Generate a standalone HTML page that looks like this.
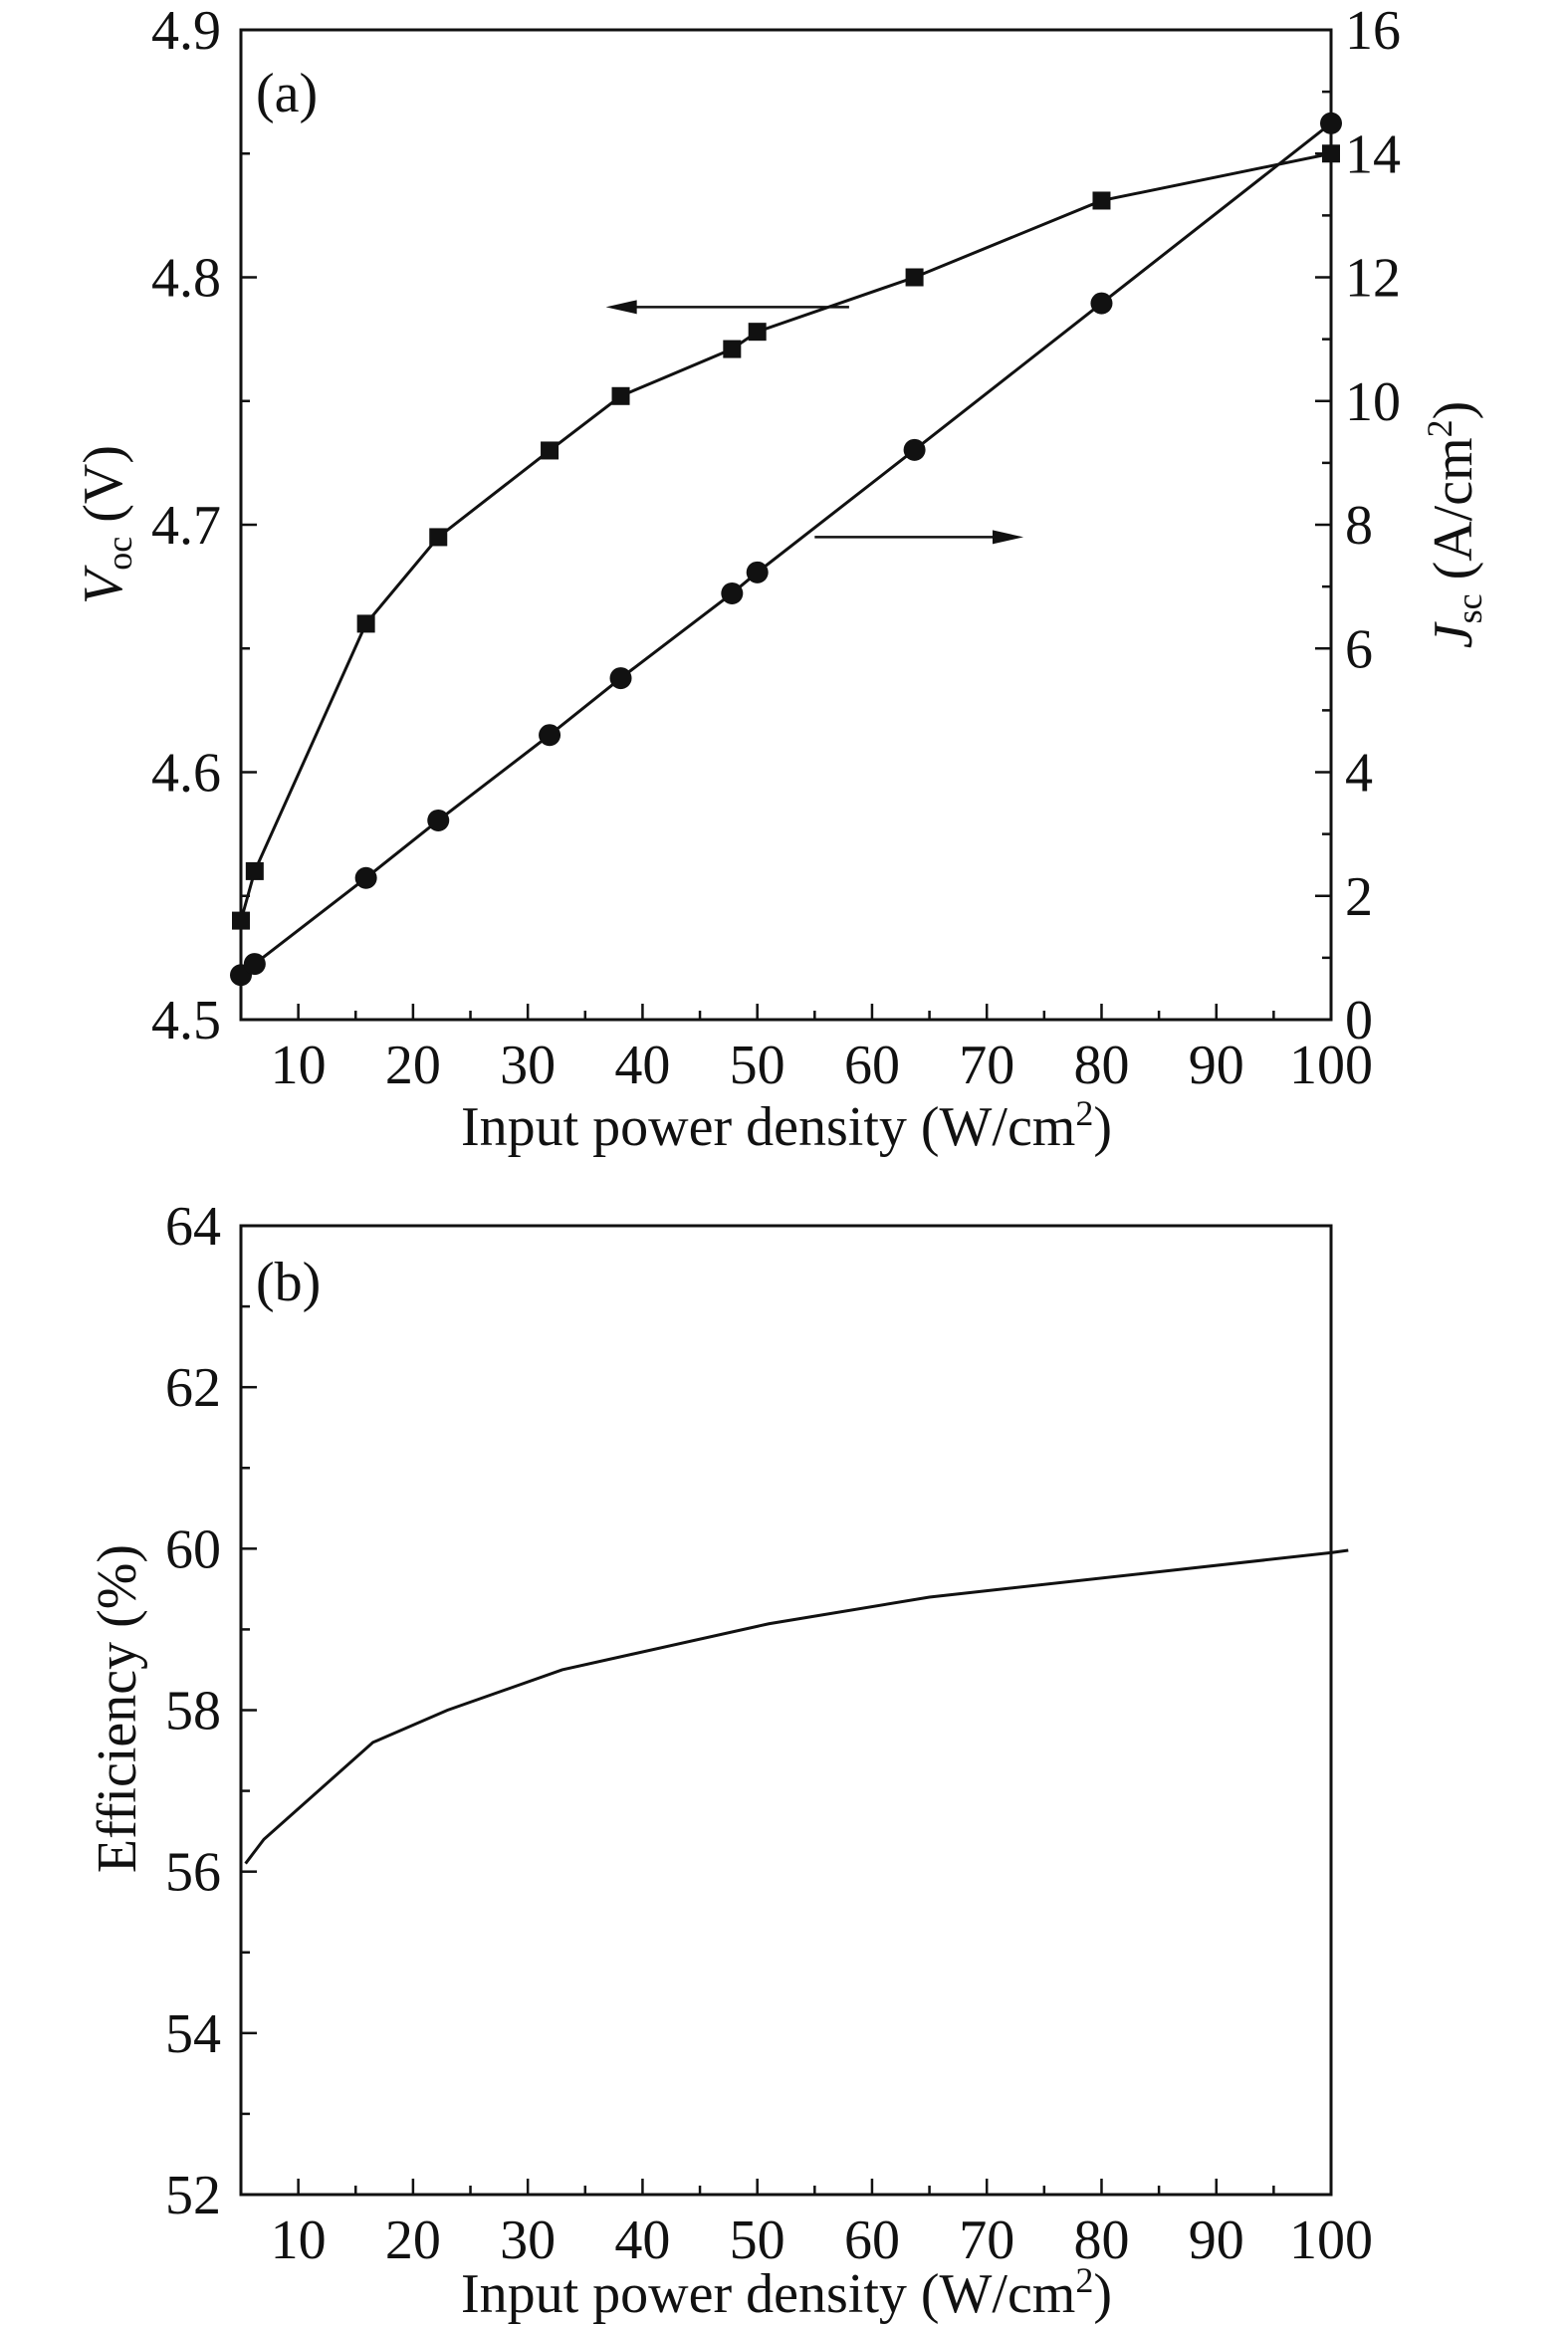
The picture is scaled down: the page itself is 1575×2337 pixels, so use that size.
<!DOCTYPE html>
<html><head><meta charset="utf-8"><style>
html,body{margin:0;padding:0;background:#fff;}
svg{display:block;font-family:"Liberation Serif",serif;}
</style></head><body>
<svg id="chart" width="1575" height="2337" viewBox="0 0 1575 2337" xmlns="http://www.w3.org/2000/svg"></svg>
<script>
const powerA = [5, 6.2, 15.9, 22.2, 31.9, 38.1, 47.8, 50, 63.7, 80, 100];
const vocValues = [4.54, 4.56, 4.66, 4.695, 4.73, 4.752, 4.771, 4.778, 4.80, 4.831, 4.85];
const jscValues = [0.72, 0.9, 2.29, 3.22, 4.6, 5.52, 6.89, 7.23, 9.21, 11.58, 14.49];
const powerB = [5.4, 7, 16.5, 23, 33, 51, 65, 100, 101.5];
const effValues = [56.1, 56.4, 57.6, 58.0, 58.5, 59.07, 59.4, 59.95, 59.98];
const xTicks = [10, 20, 30, 40, 50, 60, 70, 80, 90, 100];
const vocTicks = ["4.5", "4.6", "4.7", "4.8", "4.9"];
const jscTicks = [0, 2, 4, 6, 8, 10, 12, 14, 16];
const effTicks = [52, 54, 56, 58, 60, 62, 64];

const NS = "http://www.w3.org/2000/svg";
const svg = document.getElementById('chart');
function mk(tag, attrs, parent, text) {
  const e = document.createElementNS(NS, tag);
  for (const k in attrs) e.setAttribute(k, attrs[k]);
  if (text !== undefined) e.textContent = text;
  (parent || svg).appendChild(e);
  return e;
}
const FS = 56;
const L = 242, R = 1337, XMIN = 5, XMAX = 100;
const xs = v => L + (v - XMIN) / (XMAX - XMIN) * (R - L);

function panel(top, bottom, name) {
  const g = mk('g', {});
  
  
  const f = mk('rect', {x: L, y: top, width: R - L, height: bottom - top, fill: 'none', stroke: '#111', 'stroke-width': 3}, g);
  
  
  for (let v = 10; v <= 100; v += 5) {
    const len = v % 10 === 0 ? 16 : 9;
    mk('line', {x1: xs(v), x2: xs(v), y1: bottom, y2: bottom - len, stroke: '#111', 'stroke-width': 2.5}, g);
  }
  xTicks.forEach(v => {
    const t = mk('text', {x: xs(v), y: bottom + 64, 'font-size': FS, 'text-anchor': 'middle', fill: '#111'}, g, String(v));
    
    
  });
  return g;
}

// Panel A
const aT = 30, aB = 1024;
const gA = panel(aT, aB, 'panel-a');
const yV = v => aB - (v - 4.5) / 0.4 * (aB - aT);
const yJ = v => aB - v / 16 * (aB - aT);
for (let i = 0; i <= 8; i++) {
  const v = 4.5 + i * 0.05, len = i % 2 === 0 ? 16 : 9;
  mk('line', {x1: L, x2: L + len, y1: yV(v), y2: yV(v), stroke: '#111', 'stroke-width': 2.5}, gA);
}
vocTicks.forEach(s => {
  const t = mk('text', {x: 222, y: yV(+s) + 19, 'font-size': FS, 'text-anchor': 'end', fill: '#111'}, gA, s);
  
  
});
for (let v = 0; v <= 16; v++) {
  const len = v % 2 === 0 ? 16 : 9;
  mk('line', {x1: R, x2: R - len, y1: yJ(v), y2: yJ(v), stroke: '#111', 'stroke-width': 2.5}, gA);
}
jscTicks.forEach(v => {
  const t = mk('text', {x: R + 14, y: yJ(v) + 19, 'font-size': FS, fill: '#111'}, gA, String(v));
  
  
});
const pa = mk('text', {x: 257, y: 112, 'font-size': FS, fill: '#111'}, gA, '(a)');


const xtA = mk('text', {x: 790, y: 1150, 'font-size': FS, 'text-anchor': 'middle', fill: '#111'}, gA);


xtA.innerHTML = 'Input power density (W/cm<tspan dy="-20" font-size="36">2</tspan><tspan dy="20">)</tspan>';
const ytV = mk('text', {transform: 'translate(122,527) rotate(-90)', 'font-size': FS, 'text-anchor': 'middle', fill: '#111'}, gA);


ytV.innerHTML = '<tspan font-style="italic">V</tspan><tspan font-size="36" dy="10">oc</tspan><tspan dy="-10"> (V)</tspan>';
const ytJ = mk('text', {transform: 'translate(1478,527) rotate(-90)', 'font-size': FS, 'text-anchor': 'middle', fill: '#111'}, gA);


ytJ.innerHTML = '<tspan font-style="italic">J</tspan><tspan font-size="36" dy="10">sc</tspan><tspan dy="-10"> (A/cm</tspan><tspan dy="-20" font-size="36">2</tspan><tspan dy="20">)</tspan>';

const vl = mk('polyline', {points: powerA.map((p, i) => xs(p) + ',' + yV(vocValues[i])).join(' '), fill: 'none', stroke: '#111', 'stroke-width': 3}, gA);


const jl = mk('polyline', {points: powerA.map((p, i) => xs(p) + ',' + yJ(jscValues[i])).join(' '), fill: 'none', stroke: '#111', 'stroke-width': 3}, gA);


powerA.forEach((p, i) => {
  const s = mk('rect', {x: xs(p) - 9, y: yV(vocValues[i]) - 9, width: 18, height: 18, fill: '#111'}, gA);
  
  
  const c = mk('circle', {cx: xs(p), cy: yJ(jscValues[i]), r: 11, fill: '#111'}, gA);
  
  
});
// arrows
const ar1 = mk('g', {}, gA);


mk('line', {x1: xs(58), x2: xs(38.5), y1: yV(4.788), y2: yV(4.788), stroke: '#111', 'stroke-width': 2.5}, ar1);
mk('polygon', {points: `${xs(36.8)},${yV(4.788)} ${xs(39.5)},${yV(4.788) - 7} ${xs(39.5)},${yV(4.788) + 7}`, fill: '#111'}, ar1);
const ar2 = mk('g', {}, gA);


mk('line', {x1: xs(55), x2: xs(71.5), y1: yJ(7.8), y2: yJ(7.8), stroke: '#111', 'stroke-width': 2.5}, ar2);
mk('polygon', {points: `${xs(73.2)},${yJ(7.8)} ${xs(70.5)},${yJ(7.8) - 7} ${xs(70.5)},${yJ(7.8) + 7}`, fill: '#111'}, ar2);

// Panel B
const bT = 1231, bB = 2204;
const gB = panel(bT, bB, 'panel-b');
const yE = v => bB - (v - 52) / 12 * (bB - bT);
for (let v = 52; v <= 64; v++) {
  const len = v % 2 === 0 ? 16 : 9;
  mk('line', {x1: L, x2: L + len, y1: yE(v), y2: yE(v), stroke: '#111', 'stroke-width': 2.5}, gB);
}
effTicks.forEach(v => {
  const t = mk('text', {x: 222, y: yE(v) + 19, 'font-size': FS, 'text-anchor': 'end', fill: '#111'}, gB, String(v));
  
  
});
const pb = mk('text', {x: 257, y: 1306, 'font-size': FS, fill: '#111'}, gB, '(b)');


const xtB = mk('text', {x: 790, y: 2322, 'font-size': FS, 'text-anchor': 'middle', fill: '#111'}, gB);


xtB.innerHTML = 'Input power density (W/cm<tspan dy="-20" font-size="36">2</tspan><tspan dy="20">)</tspan>';
const ytE = mk('text', {transform: 'translate(136,1716) rotate(-90)', 'font-size': FS, 'text-anchor': 'middle', fill: '#111'}, gB, 'Efficiency (%)');


const el = mk('polyline', {points: powerB.map((p, i) => xs(p) + ',' + yE(effValues[i])).join(' '), fill: 'none', stroke: '#111', 'stroke-width': 3}, gB);


</script>
</body></html>
